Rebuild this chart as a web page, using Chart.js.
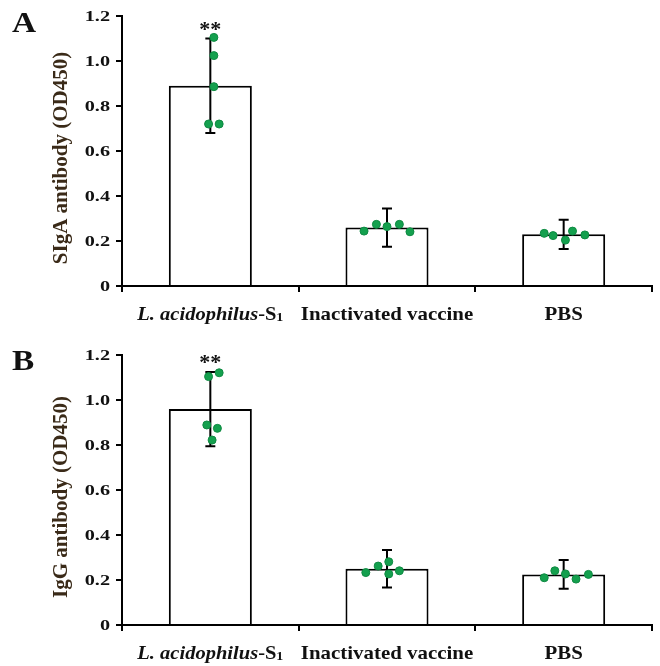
<!DOCTYPE html>
<html>
<head>
<meta charset="utf-8">
<script src="https://cdn.jsdelivr.net/npm/chart.js@4.4.1/dist/chart.umd.min.js"></script>
<style>
  html, body { margin: 0; padding: 0; background: #fff; }
  canvas { display: block; }
</style>
</head>
<body>
<canvas id="chartA" width="660" height="333"></canvas>
<canvas id="chartB" width="660" height="333"></canvas>
<script>
// data
const groups = ['L. acidophilus-S1', 'Inactivated vaccine', 'PBS'];
const yTicks = [0, 0.2, 0.4, 0.6, 0.8, 1.0, 1.2];
const significance = ['**', '', ''];

const sigaMean = [0.89, 0.26, 0.23];
const sigaSd = [0.21, 0.085, 0.065];
const sigaPoints = [
    [1.105, 1.024, 0.886, 0.72, 0.72],
    [0.244, 0.274, 0.264, 0.274, 0.241],
    [0.234, 0.224, 0.204, 0.244, 0.227]
];

const iggMean = [0.96, 0.25, 0.225];
const iggSd = [0.165, 0.083, 0.064];
const iggPoints = [
    [1.104, 1.121, 0.889, 0.874, 0.822],
    [0.233, 0.262, 0.281, 0.227, 0.241],
    [0.210, 0.241, 0.227, 0.204, 0.225]
];

// horizontal scatter of the dots (category units)
const jitterA = [[0.02, 0.02, 0.02, -0.01, 0.05], [-0.13, -0.06, 0, 0.07, 0.13], [-0.11, -0.06, 0.01, 0.05, 0.12]];
const jitterB = [[-0.01, 0.05, -0.02, 0.04, 0.01], [-0.12, -0.05, 0.01, 0.01, 0.07], [-0.11, -0.05, 0.01, 0.07, 0.14]];

const SERIF = '"Liberation Serif", "DejaVu Serif", serif';

function wideText(ctx, text, x, y, sx, align) {
    ctx.save();
    ctx.translate(x, y);
    ctx.scale(sx, 1);
    ctx.textAlign = align;
    ctx.fillText(text, 0, 0);
    ctx.restore();
}

const panelPlugin = {
    id: 'panel',
    afterDatasetDraw(chart, args, opts) {
        if (args.index !== 0) return;
        const ctx = chart.ctx;
        const y = chart.scales.y;
        ctx.save();
        ctx.strokeStyle = '#000';
        ctx.lineWidth = 2;
        args.meta.data.forEach((bar, i) => {
            const m = opts.mean[i], s = opts.sd[i];
            const top = y.getPixelForValue(m + s);
            const bot = y.getPixelForValue(m - s);
            ctx.beginPath();
            ctx.moveTo(bar.x, top); ctx.lineTo(bar.x, bot);
            ctx.moveTo(bar.x - 5, top); ctx.lineTo(bar.x + 5, top);
            ctx.moveTo(bar.x - 5, bot); ctx.lineTo(bar.x + 5, bot);
            ctx.stroke();
            if (significance[i]) {
                ctx.fillStyle = '#111';
                ctx.font = 'bold 22px ' + SERIF;
                ctx.textAlign = 'center';
                ctx.textBaseline = 'alphabetic';
                ctx.fillText(significance[i], bar.x, top - 3);
            }
        });
        ctx.restore();
    },
    afterDraw(chart, args, opts) {
        const ctx = chart.ctx;
        const x = chart.scales.x, y = chart.scales.y;
        const area = chart.chartArea;
        ctx.save();
        ctx.fillStyle = '#111';
        ctx.textBaseline = 'alphabetic';

        // panel letter
        ctx.font = 'bold 29px ' + SERIF;
        wideText(ctx, opts.letter, 12, opts.letterY, 1.15, 'left');

        // y tick labels
        ctx.font = 'bold 15px ' + SERIF;
        ctx.textBaseline = 'middle';
        yTicks.forEach(v => {
            const label = v === 0 ? '0' : v.toFixed(1);
            wideText(ctx, label, 110, y.getPixelForValue(v) + 1, 1.35, 'right');
        });

        // x labels
        ctx.textBaseline = 'alphabetic';
        const base = area.bottom + 34;
        groups.forEach((g, i) => {
            const cx = x.getPixelForValue(i);
            if (i === 0) {
                const parts = [
                    { t: 'L. acidophilus', f: 'italic bold 19px ' + SERIF, dy: 0 },
                    { t: '-S', f: 'bold 19px ' + SERIF, dy: 0 },
                    { t: '1', f: 'bold 13px ' + SERIF, dy: 1 }
                ];
                let w = 0;
                parts.forEach(p => { ctx.font = p.f; p.w = ctx.measureText(p.t).width; w += p.w; });
                ctx.save();
                ctx.translate(cx, base);
                ctx.scale(1.08, 1);
                let px = -w / 2;
                ctx.textAlign = 'left';
                parts.forEach(p => { ctx.font = p.f; ctx.fillText(p.t, px, p.dy); px += p.w; });
                ctx.restore();
            } else {
                ctx.font = 'bold 19px ' + SERIF;
                wideText(ctx, g, cx, base, 1.1, 'center');
            }
        });

        // y title
        ctx.fillStyle = '#3a2a18';
        ctx.font = 'bold 21px ' + SERIF;
        ctx.textAlign = 'center';
        ctx.textBaseline = 'middle';
        ctx.translate(62, (area.top + area.bottom) / 2 + 7);
        ctx.rotate(-Math.PI / 2);
        ctx.fillText(opts.title, 0, 0);
        ctx.restore();
    }
};

function makeChart(id, mean, sd, points, jitter, panel) {
    const bars = mean.map((v, i) => ({ x: i, y: v }));
    const dots = [];
    points.forEach((vals, i) => vals.forEach((v, k) => dots.push({ x: i + jitter[i][k], y: v })));
    return new Chart(document.getElementById(id), {
        type: 'scatter',
        data: {
            datasets: [{
                type: 'bar',
                data: bars,
                backgroundColor: '#fff',
                borderColor: '#000',
                borderWidth: 2,
                barPercentage: 0.47,
                categoryPercentage: 1,
                order: 1
            }, {
                type: 'scatter',
                data: dots,
                pointRadius: 4,
                pointBackgroundColor: '#14a04e',
                pointBorderColor: '#0e8a42',
                pointBorderWidth: 1,
                order: 0
            }]
        },
        options: {
            responsive: false,
            animation: false,
            layout: { padding: { left: 0, right: 8, top: panel.top, bottom: 0 } },
            plugins: {
                legend: { display: false },
                tooltip: { enabled: false },
                panel: { mean: mean, sd: sd, letter: panel.letter, letterY: panel.letterY, title: panel.title }
            },
            scales: {
                x: {
                    type: 'linear',
                    offset: false,
                    min: -0.5,
                    max: groups.length - 0.5,
                    grid: { offset: false, drawOnChartArea: false, color: '#000', lineWidth: 2, tickLength: 6 },
                    border: { color: '#000', width: 2 },
                    ticks: { display: false },
                    afterBuildTicks: s => { s.ticks = [-0.5, 0.5, 1.5, 2.5].map(v => ({ value: v })); },
                    afterFit: s => { s.height = panel.xh; }
                },
                y: {
                    min: 0,
                    max: 1.2,
                    grid: { drawOnChartArea: false, color: '#000', lineWidth: 2, tickLength: 6 },
                    border: { color: '#000', width: 2 },
                    ticks: { display: false },
                    afterBuildTicks: s => { s.ticks = yTicks.map(v => ({ value: v })); },
                    afterFit: s => { s.width = 122; }
                }
            }
        },
        plugins: [panelPlugin]
    });
}

makeChart('chartA', sigaMean, sigaSd, sigaPoints, jitterA,
    { top: 16, xh: 47, letter: 'A', letterY: 32, title: 'SIgA antibody (OD450)' });
makeChart('chartB', iggMean, iggSd, iggPoints, jitterB,
    { top: 22, xh: 41, letter: 'B', letterY: 37, title: 'IgG antibody (OD450)' });
</script>
</body>
</html>
